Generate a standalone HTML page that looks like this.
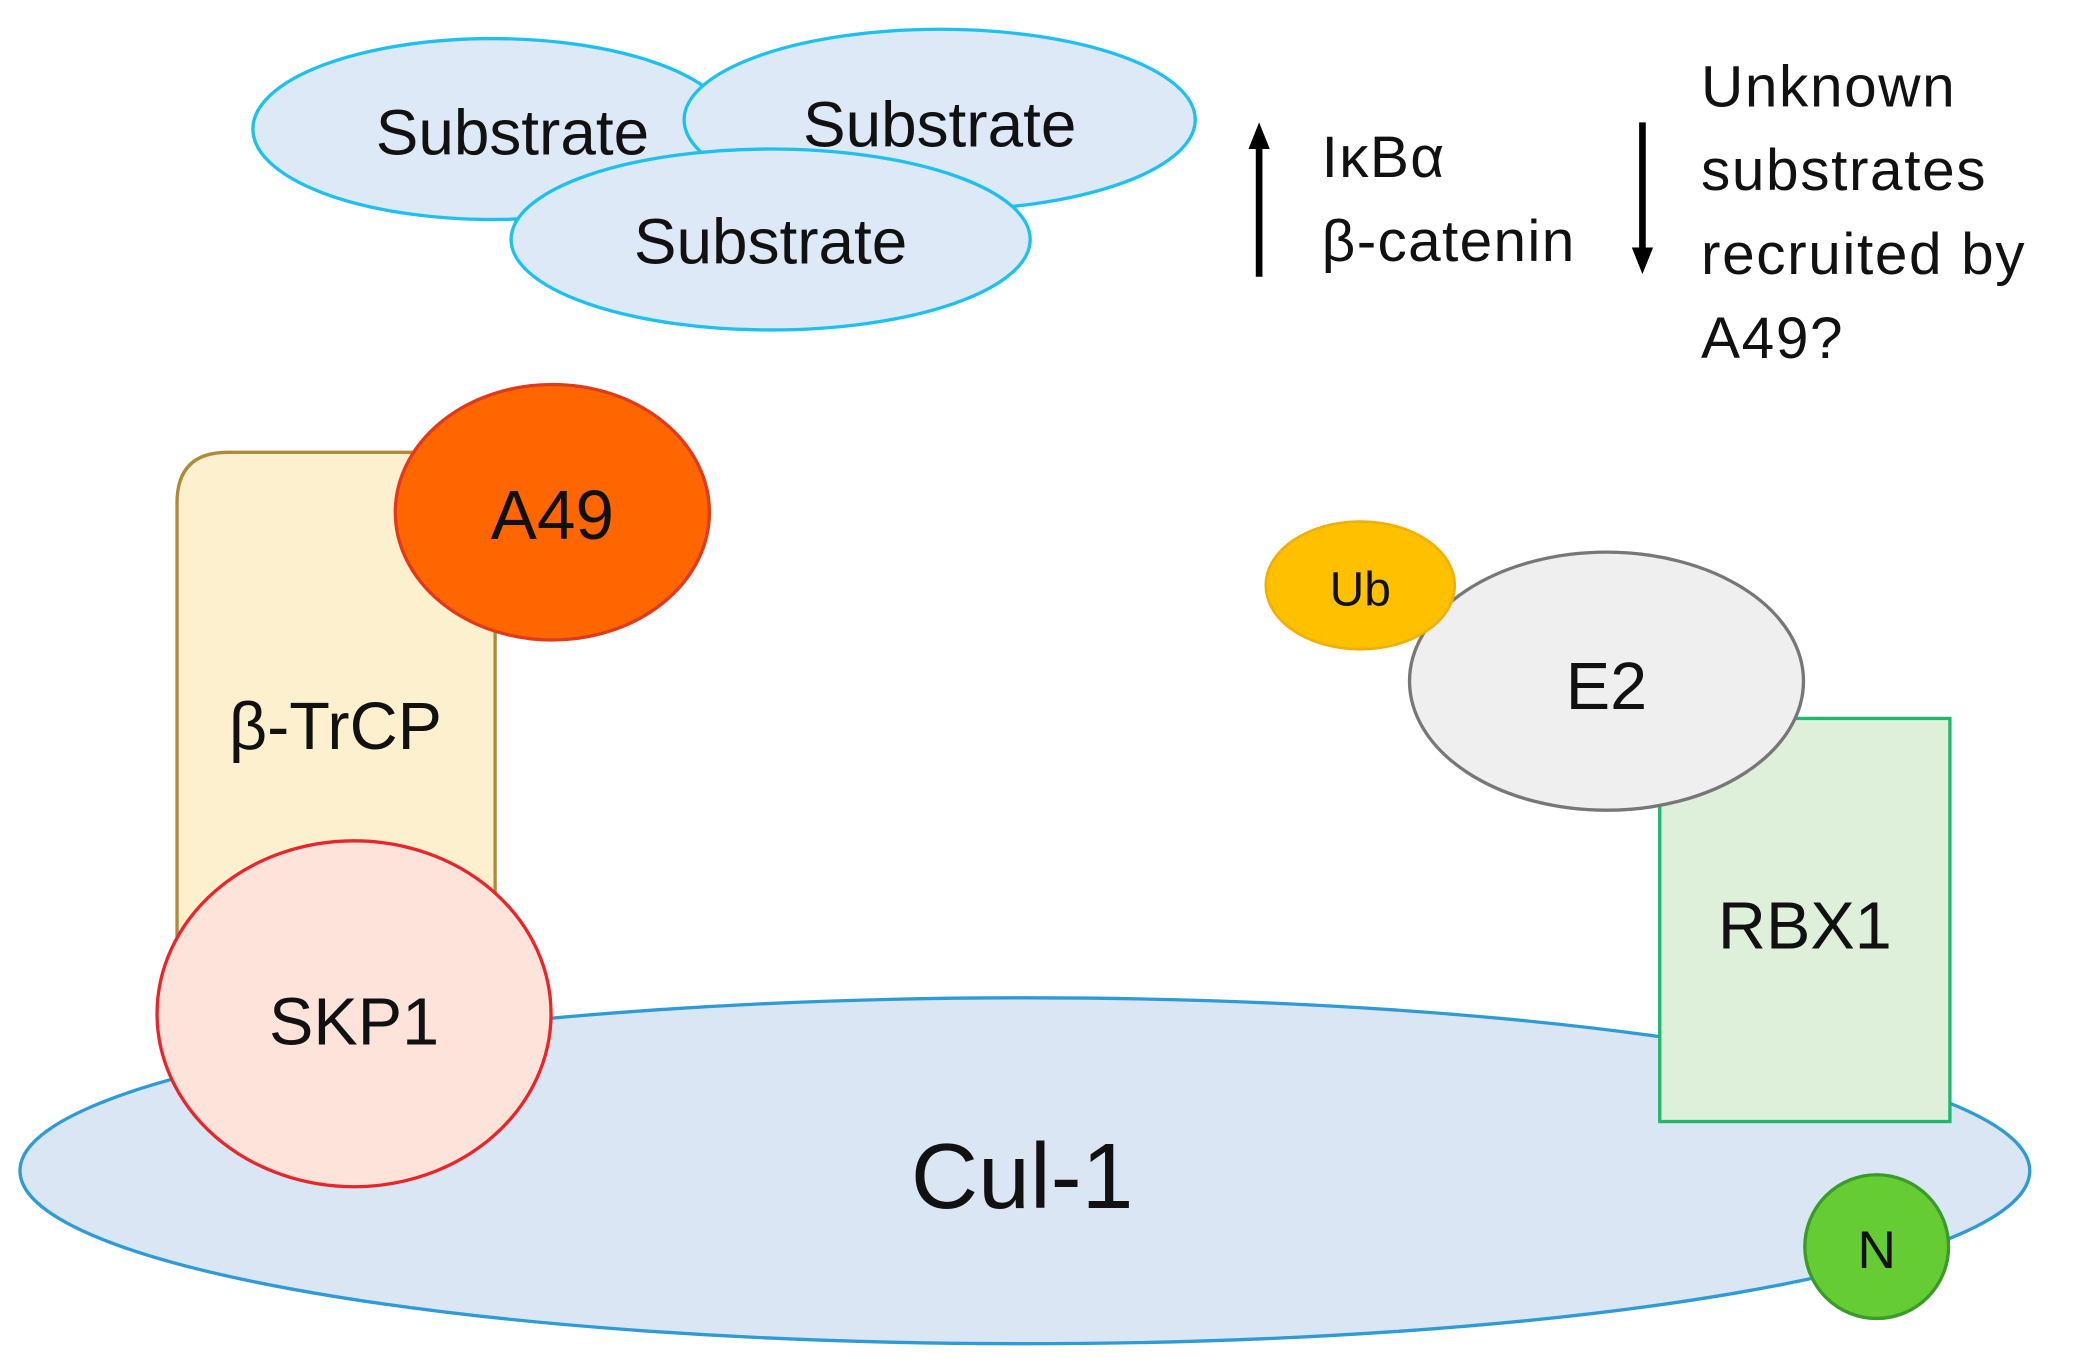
<!DOCTYPE html>
<html><head><meta charset="utf-8"><style>
html,body{margin:0;padding:0;background:#fff;}
svg{display:block;}
text{font-family:"Liberation Sans","DejaVu Sans",sans-serif;fill:#111;}
</style></head><body>
<svg width="2087" height="1369" viewBox="0 0 1568 1029" preserveAspectRatio="none" xmlns="http://www.w3.org/2000/svg">
<ellipse cx="770" cy="880" rx="755" ry="130" fill="#dae6f4" stroke="#2e9bd6" stroke-width="2.5"/>
<text x="768" y="908" font-size="70" text-anchor="middle">Cul-1</text>
<path d="M133,730 L133,378 Q133,340 171,340 L372,340 L372,730 Z" fill="#fdf0cf" stroke="#b08a3a" stroke-width="2.5"/>
<text x="252" y="563" font-size="50" text-anchor="middle">β-TrCP</text>
<ellipse cx="415" cy="385" rx="118" ry="96" fill="#ff6600" stroke="#e03a1a" stroke-width="2.5"/>
<text x="415" y="405" font-size="52" text-anchor="middle">A49</text>
<ellipse cx="266" cy="762" rx="148" ry="130" fill="#fde3d9" stroke="#e8262a" stroke-width="2.5"/>
<text x="266" y="785" font-size="50" text-anchor="middle">SKP1</text>
<rect x="1247" y="540" width="218" height="303" fill="#dff0da" stroke="#1fb86c" stroke-width="2.5"/>
<text x="1356" y="713" font-size="50" text-anchor="middle">RBX1</text>
<ellipse cx="1207" cy="512" rx="148" ry="97" fill="#efefef" stroke="#777" stroke-width="2.5"/>
<text x="1207" y="533" font-size="50" text-anchor="middle">E2</text>
<ellipse cx="1022" cy="440" rx="71" ry="48" fill="#ffc000" stroke="#f0b000" stroke-width="2"/>
<text x="1022" y="455" font-size="36" text-anchor="middle">Ub</text>
<circle cx="1410" cy="937" r="54" fill="#66cc33" stroke="#3a9a2a" stroke-width="2.5"/>
<text x="1410" y="953" font-size="40" text-anchor="middle">N</text>
<ellipse cx="370" cy="97" rx="180" ry="68" fill="#dde9f6" stroke="#1ec0ee" stroke-width="2.5"/>
<text x="385" y="116" font-size="48" text-anchor="middle">Substrate</text>
<ellipse cx="706" cy="90" rx="192" ry="68" fill="#dde9f6" stroke="#1ec0ee" stroke-width="2.5"/>
<text x="706" y="110" font-size="48" text-anchor="middle">Substrate</text>
<ellipse cx="579" cy="180" rx="195" ry="68" fill="#dde9f6" stroke="#1ec0ee" stroke-width="2.5"/>
<text x="579" y="198" font-size="48" text-anchor="middle">Substrate</text>
<line x1="946" y1="208" x2="946" y2="108" stroke="#000" stroke-width="5"/>
<polygon points="946,92 938,112 954,112" fill="#000"/>
<line x1="1234" y1="92" x2="1234" y2="190" stroke="#000" stroke-width="5"/>
<polygon points="1234,206 1226,186 1242,186" fill="#000"/>
<text x="993" y="133" font-size="44" letter-spacing="1">IκBα</text>
<text x="993" y="196" font-size="44" letter-spacing="1">β-catenin</text>
<text x="1278" y="80" font-size="44" letter-spacing="1.2">Unknown</text>
<text x="1278" y="143" font-size="44" letter-spacing="1.2">substrates</text>
<text x="1278" y="206" font-size="44" letter-spacing="1.2">recruited by</text>
<text x="1278" y="269" font-size="44" letter-spacing="1.2">A49?</text>
</svg>
</body></html>
